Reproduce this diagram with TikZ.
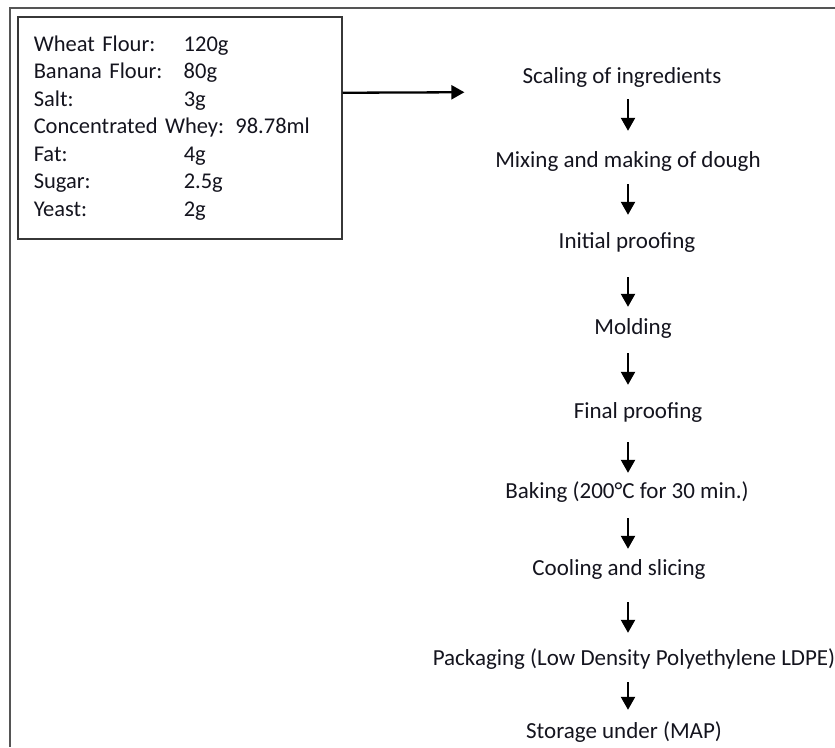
\documentclass[tikz,border=0pt]{standalone}
\usepackage{fontspec}
\setmainfont{Carlito}
\usetikzlibrary{arrows.meta,positioning}
\definecolor{framegray}{RGB}{85,85,85}
\definecolor{boxedge}{RGB}{55,55,55}
\definecolor{darktext}{RGB}{20,20,30}

\begin{document}
\begin{tikzpicture}[x=1pt,y=-1pt,
  stepnode/.style={inner sep=0pt,text height=15pt,text depth=5pt,
                   font=\fontsize{23}{27.5}\selectfont,text=darktext},
  ingbox/.style={draw=boxedge,line width=1.5pt,anchor=north west,
                 align=left,text width=292pt,inner xsep=16pt,
                 minimum height=222pt,text=darktext,
                 font=\fontsize{22.5}{27.5}\selectfont},
  flow/.style={-{Triangle[length=13pt,width=14pt]},line width=2.3pt}]
\useasboundingbox (0,0) rectangle (835,747);
\draw[framegray,line width=1.5pt] (835,8) -- (10,8) -- (10,747);
% ingredients
\node[ingbox](ing) at (17,16) {\makebox[150pt][l]{Wheat Flour:}120g\\
  \makebox[150pt][l]{Banana Flour:}80g\\
  \makebox[150pt][l]{Salt:}3g\\
  Concentrated Whey: 98.78ml\\
  \makebox[150pt][l]{Fat:}4g\\
  \makebox[150pt][l]{Sugar:}2.5g\\
  \makebox[150pt][l]{Yeast:}2g};
% process steps
\node[stepnode](scale)  at (622,78)  {Scaling of ingredients};
\node[stepnode](mix)    at (628,162) {Mixing and making of dough};
\node[stepnode](proof1) at (627,243) {Initial proofing};
\node[stepnode](mold)   at (633,329) {Molding};
\node[stepnode](proof2) at (638,413) {Final proofing};
\node[stepnode](bake)   at (627,493) {Baking (200°C for 30 min.)};
\node[stepnode](cool)   at (619,570) {Cooling and slicing};
\node[stepnode](pack)   at (634,660) {Packaging (Low Density Polyethylene LDPE)};
\node[stepnode](store)  at (624,733) {Storage under (MAP)};
\coordinate (col) at (628,0);
\draw[flow,shorten >=58pt]([yshift=35pt]ing.east)--([yshift=-14pt]scale.west);
\draw[flow,shorten <=11pt,shorten >=21pt](scale.south -| col)--(mix.north -| col);
\draw[flow,shorten <=12pt,shorten >=18pt](mix.south -| col)--(proof1.north -| col);
\draw[flow,shorten <=24pt,shorten >=12pt](proof1.south -| col)--(mold.north -| col);
\draw[flow,shorten <=14pt,shorten >=18pt](mold.south -| col)--(proof2.north -| col);
\draw[flow,shorten <=19pt,shorten >=10pt](proof2.south -| col)--(bake.north -| col);
\draw[flow,shorten <=15pt,shorten >=11pt](bake.south -| col)--(cool.north -| col);
\draw[flow,shorten <=22pt,shorten >=17pt](cool.south -| col)--(pack.north -| col);
\draw[flow,shorten <=12pt,shorten >=13pt](pack.south -| col)--(store.north -| col);
\end{tikzpicture}
\end{document}
